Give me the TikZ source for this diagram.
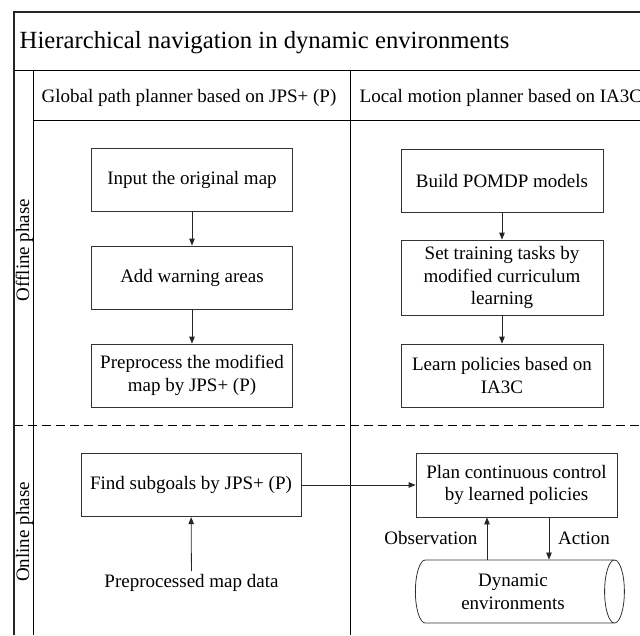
\documentclass[tikz,border=0pt]{standalone}
\usepackage{fontspec}
\setmainfont{Liberation Serif}
\usetikzlibrary{shapes.geometric,arrows.meta}
\begin{document}
\begin{tikzpicture}[x=1pt,y=-1pt,
  frame/.style={line width=1.3pt, draw=black!85},
  rule/.style={line width=0.9pt, draw=black},
  bodyfont/.style={font=\fontsize{19}{22.8}\selectfont},
  stepbox/.style={bodyfont, draw=black!80, line width=0.8pt, align=center, inner sep=2pt},
  txt/.style={bodyfont, inner sep=0pt},
  flow/.style={draw=black!85, line width=0.8pt, -{Triangle[length=7pt,width=5.5pt]}},
]
\useasboundingbox (0,0) rectangle (640,635);

% swimlane frame
\draw[frame] (640,12) -- (14,12) -- (14,635);
\draw[rule] (14,70) -- (640,70);
\draw[rule] (33,70) -- (33,635);
\draw[rule] (33,120) -- (640,120);
\draw[rule] (350,70) -- (350,635);
\draw[rule, dash pattern=on 9pt off 5pt] (14,425) -- (640,425);

% titles
\node[inner sep=0pt, anchor=base west, font=\fontsize{24.7}{29}\selectfont] (title) at (19.5,48)
  {Hierarchical navigation in dynamic environments};
\node[txt, anchor=base west] (hglobal) at (41.5,102) {Global path planner based on JPS+ (P)};
\node[txt, anchor=base west] (hlocal) at (359.5,102) {Local motion planner based on IA3C};
\node[txt, rotate=90] (offline) at (24.5,250) {Offline phase};
\node[txt, rotate=90] (online) at (24.5,532) {Online phase};

% offline phase, global planner
\node[stepbox, minimum width=200.5pt, minimum height=63pt] (input) at (192,179.5) {Input the original map};
\node[stepbox, minimum width=200.5pt, minimum height=63pt] (warn) at (192,277.5) {Add warning areas};
\node[stepbox, minimum width=200.5pt, minimum height=63pt] (prep) at (192,375.5) {Preprocess the modified\\map by JPS+ (P)};

% offline phase, local planner
\node[stepbox, minimum width=202pt, minimum height=63pt] (pomdp) at (502,180.5) {Build POMDP models};
\node[stepbox, minimum width=202pt, minimum height=75pt] (tasks) at (502,277.5) {Set training tasks by\\modified curriculum\\learning};
\node[stepbox, minimum width=202pt, minimum height=63pt] (learn) at (502,375.5) {Learn policies based on\\IA3C};

% online phase
\node[stepbox, minimum width=220pt, minimum height=63.5pt] (find) at (191,485) {Find subgoals by JPS+ (P)};
\node[txt, inner sep=3pt] (data) at (191.5,583) {Preprocessed map data};
\node[stepbox, minimum width=201pt, minimum height=64pt] (plan) at (516.5,485) {Plan continuous control\\by learned policies};
% lying cylinder: minimum height runs along its axis, minimum width is its diameter
\node[stepbox, cylinder, shape aspect=0.5, minimum height=209pt, minimum width=63pt] (env) at (513,591.5) {Dynamic\\environments};

\coordinate (obsx) at (487,0);
\coordinate (actx) at (549,0);
\node[txt, anchor=east] (obs) at (477.5,538) {Observation};
\node[txt, anchor=west] (act) at (558,538) {Action};

% connectors
\draw[flow] (input) -- (warn);
\draw[flow] (warn) -- (prep);
\draw[flow] (pomdp) -- (tasks);
\draw[flow] (tasks) -- (learn);
\draw[flow] (data) -- (find);
\draw[flow] (find) -- (plan);
\draw[flow] (env.north -| obsx) -- (plan.south -| obsx);
\draw[flow] (plan.south -| actx) -- (env.north -| actx);
\end{tikzpicture}
\end{document}
